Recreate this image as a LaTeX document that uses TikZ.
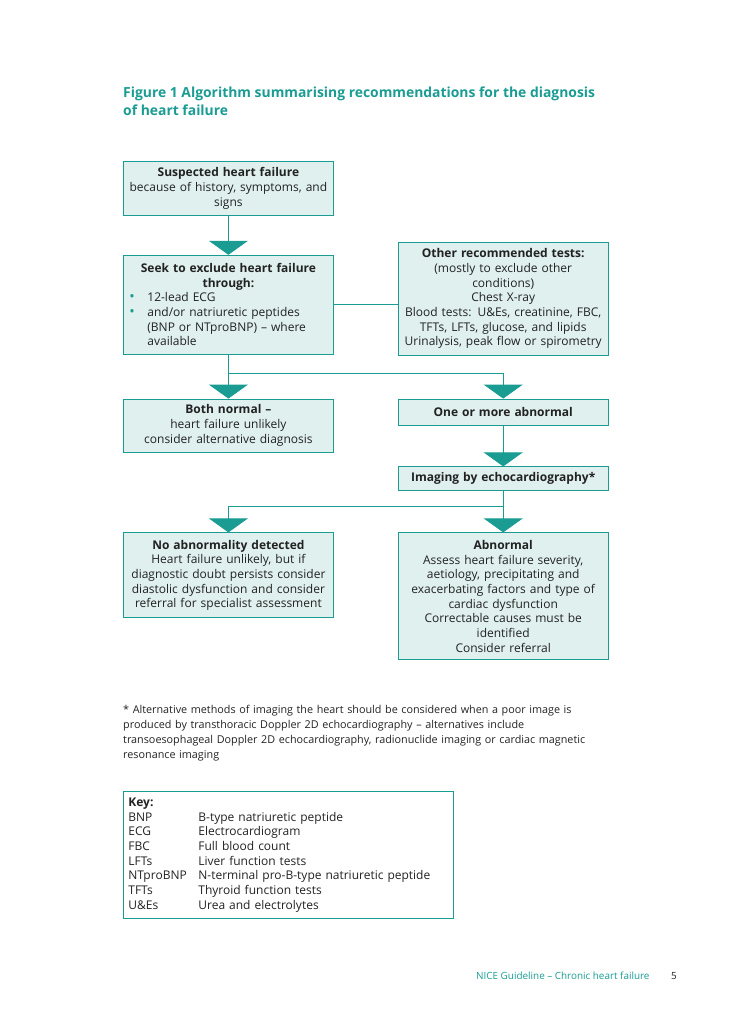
\documentclass[tikz,border=0pt]{standalone}
\usepackage{fontspec}
\setmainfont{Open Sans}
\usetikzlibrary{positioning, arrows.meta}

\definecolor{niceteal}{HTML}{1A9C93}
\definecolor{boxfill}{HTML}{DFF0EF}
\definecolor{inkgray}{HTML}{222222}

\newcommand{\bulletline}[1]{\hspace*{3pt}\makebox[18pt][l]{\textcolor{niceteal}{\Large\textbullet}}#1}
\newcommand{\hangline}[1]{\hspace*{21pt}#1}
\newcommand{\keyrow}[2]{\makebox[70pt][l]{#1}#2}

\begin{document}
\begin{tikzpicture} [
						x=1pt, y=-1pt,
						font=\fontsize{12}{14.7}\selectfont,
						text=inkgray,
						box/.style={draw=niceteal, fill=boxfill, line width=0.8pt,
							minimum width=210pt, text width=204pt, inner xsep=3pt,
							inner ysep=2pt, align=center},
						flow/.style={draw=niceteal, line width=0.8pt},
						head/.style={flow, -{Triangle[width=39pt, length=14pt]}}
					]
\useasboundingbox (0,0) rectangle (728,1030);

% title
\node (title) [anchor=north west, inner sep=0pt, align=left, text=niceteal,
	font=\fontsize{13.9}{18}\selectfont\bfseries] at (123,87)
	{Figure 1 Algorithm summarising recommendations for the diagnosis\\of heart failure};

% flow chart
\node (suspect) [box, anchor=north west, minimum height=54pt] at (123,161)
	{\textbf{Suspected heart failure}\\because of history, symptoms, and\\signs};
\node (exclude) [box, below=39pt of suspect, minimum height=99pt, align=left]
	{\makebox[204pt]{\textbf{Seek to exclude heart failure}}\\
	 \makebox[204pt]{\textbf{through:}}\\
	 \bulletline{12-lead ECG}\\
	 \bulletline{and/or natriuretic peptides}\\
	 \hangline{(BNP or NTproBNP) – where}\\
	 \hangline{available}};
\node (other) [box, right=64pt of exclude.north east, anchor=north west,
	yshift=13pt, minimum height=113pt]
	{\textbf{Other recommended tests:}\\(mostly to exclude other\\conditions)\\Chest X-ray\\
	 Blood tests: U\&Es, creatinine, FBC,\\TFTs, LFTs, glucose, and lipids\\
	 Urinalysis, peak flow or spirometry};
\node (normal) [box, below=44pt of exclude, minimum height=53pt]
	{\textbf{Both normal –}\\heart failure unlikely\\consider alternative diagnosis};
\node (abnormal) [box, right=64pt of normal.north east, anchor=north west,
	minimum height=26pt]
	{\textbf{One or more abnormal}};
\node (echo) [box, below=41pt of abnormal, minimum height=24pt]
	{\textbf{Imaging by echocardiography*}};
\node (nodetect) [box, below=80pt of normal, minimum height=85pt]
	{\textbf{No abnormality detected}\\Heart failure unlikely, but if\\
	 diagnostic doubt persists consider\\diastolic dysfunction and consider\\
	 referral for specialist assessment};
\node (echoabn) [box, right=64pt of nodetect.north east, anchor=north west,
	minimum height=127pt]
	{\textbf{Abnormal}\\Assess heart failure severity,\\aetiology, precipitating and\\
	 exacerbating factors and type of\\cardiac dysfunction\\
	 Correctable causes must be\\identified\\Consider referral};

\draw[head] (suspect) -- (exclude);
\draw[flow] (exclude) -- (exclude -| other.west);
\draw[flow] (exclude.south) -- ++(0,19) coordinate (split1);
\draw[head] (split1) -- (normal.north);
\draw[head] (split1) -| (abnormal.north);
\draw[head] (abnormal) -- (echo);
\draw[flow] (echo.south) -- ++(0,15) coordinate (split2);
\draw[head] (split2) -| (nodetect.north);
\draw[head] (split2) -- (echoabn.north);

% footnote
\node (note) [anchor=north west, inner sep=0pt, align=left, text width=500pt,
	font=\fontsize{10.8}{15}\selectfont] at (123,705)
	{* Alternative methods of imaging the heart should be considered when a poor image is\\
	 produced by transthoracic Doppler 2D echocardiography – alternatives include\\
	 transoesophageal Doppler 2D echocardiography, radionuclide imaging or cardiac magnetic\\
	 resonance imaging};

% key
\node (key) [draw=niceteal, line width=0.8pt, anchor=north west, minimum width=330pt,
	minimum height=127pt, text width=320pt, inner xsep=5pt, align=left] at (123,791)
	{\textbf{Key:}\\
	 \keyrow{BNP}{B-type natriuretic peptide}\\
	 \keyrow{ECG}{Electrocardiogram}\\
	 \keyrow{FBC}{Full blood count}\\
	 \keyrow{LFTs}{Liver function tests}\\
	 \keyrow{NTproBNP}{N-terminal pro-B-type natriuretic peptide}\\
	 \keyrow{TFTs}{Thyroid function tests}\\
	 \keyrow{U\&Es}{Urea and electrolytes}};

% footer
\node (guide) [anchor=base west, inner sep=0pt, text=niceteal,
	font=\fontsize{9.9}{12}\selectfont] at (476,979) {NICE Guideline – Chronic heart failure};
\node (page) [anchor=base west, inner sep=0pt,
	font=\fontsize{9.9}{12}\selectfont] at (671,979) {5};
\end{tikzpicture}
\end{document}
